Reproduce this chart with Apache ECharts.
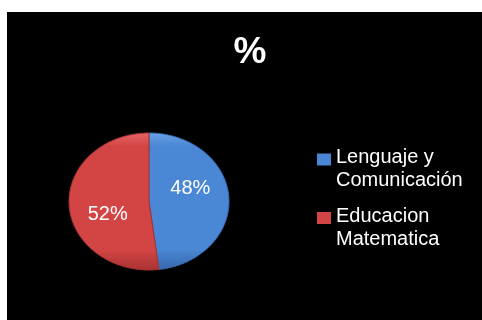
<!DOCTYPE html>
<html>
<head>
<meta charset="utf-8">
<script src="https://cdn.jsdelivr.net/npm/echarts@6/dist/echarts.min.js"></script>
<style>
  html, body { margin: 0; padding: 0; background: #fff; }
  #chart { width: 482px; height: 320px; }
</style>
</head>
<body>
<div id="chart"></div>
<script>
// Subjects and their share of the total
const categories = ['Lenguaje y Comunicación', 'Educacion Matematica'];
const values = [48, 52];
const titleText = '%';

// Slice colours: [base, light rim, dark rim]
const palette = [
  ['#4a87d4', '#6aa2e6', '#3768ad'],
  ['#d34545', '#e46464', '#a83232']
];

const FONT = '"Liberation Sans", Arial, sans-serif';
const total = values.reduce((a, b) => a + b, 0);
const starts = [];
values.reduce((acc, v, i) => { starts[i] = acc; return acc + v; }, 0);

// Tilted (elliptical) pie geometry
const pie = { cx: 149, cy: 201.5, rx: 80, ry: 68.5, labelR: 0.55, labelShift: -16.5 };

function pt(deg, f) {
  const a = deg * Math.PI / 180;
  return [pie.cx + pie.rx * f * Math.sin(a), pie.cy - pie.ry * f * Math.cos(a)];
}

function makeRender(si) {
  return function (params, api) {
    const v = api.value(0);
    const a0 = starts[si] / total * 360;
    const a1 = (starts[si] + v) / total * 360;
    const points = [[pie.cx, pie.cy]];
    const steps = Math.max(2, Math.ceil(a1 - a0));
    for (let k = 0; k <= steps; k++) {
      points.push(pt(a0 + (a1 - a0) * k / steps, 1));
    }
    const c = palette[si];
    const mid = (a0 + a1) / 2 + pie.labelShift;
    const lp = pt(mid, pie.labelR);
    return {
      type: 'group',
      children: [
        {
          type: 'polygon',
          shape: { points: points },
          style: {
            fill: {
              type: 'linear', x: 0, y: 0, x2: 0, y2: 1,
              colorStops: [
                { offset: 0, color: c[1] },
                { offset: 0.1, color: c[0] },
                { offset: 0.85, color: c[0] },
                { offset: 1, color: c[2] }
              ]
            },
            stroke: c[2],
            lineWidth: 1
          }
        },
        {
          type: 'text',
          x: lp[0], y: lp[1],
          style: {
            text: Math.round(v / total * 100) + '%',
            fill: '#fff',
            font: '20px ' + FONT,
            align: 'center',
            verticalAlign: 'middle'
          },
          z2: 10
        }
      ]
    };
  };
}

// Legend names wrap onto two lines at the last space; a short spacer line
// above them brings the first line level with the colour marker.
const legendText = {
  color: '#fff',
  fontFamily: FONT,
  fontSize: 20,
  lineHeight: 23,
  rich: {
    g: { fontSize: 1, lineHeight: 19 },
    t: { color: '#fff', fontFamily: FONT, fontSize: 20, lineHeight: 23 }
  }
};

const chart = echarts.init(document.getElementById('chart'), null, { renderer: 'canvas' });
chart.setOption({
  backgroundColor: '#ffffff',
  animation: false,
  graphic: [{
    type: 'rect', z: -10,
    shape: { x: 7, y: 12, width: 475, height: 308 },
    style: { fill: '#000' }
  }],
  title: {
    text: titleText,
    left: 245, top: 29, textAlign: 'center',
    textStyle: { color: '#fff', fontFamily: FONT, fontWeight: 'bold', fontSize: 37 }
  },
  legend: categories.map((name, i) => ({
    data: [name],
    orient: 'vertical',
    left: 317,
    top: [127, 185.5][i],
    itemWidth: 14,
    itemHeight: 12,
    itemGap: 0,
    padding: 0,
    icon: 'rect',
    selectedMode: false,
    formatter: n => {
      const k = n.lastIndexOf(' ');
      return '{g| }\n{t|' + n.slice(0, k) + '}\n{t|' + n.slice(k + 1) + '}';
    },
    textStyle: legendText
  })),
  series: categories.map((name, i) => ({
    type: 'custom',
    name: name,
    coordinateSystem: 'none',
    itemStyle: { color: palette[i][0] },
    renderItem: makeRender(i),
    data: [[values[i]]]
  }))
});
</script>
</body>
</html>
